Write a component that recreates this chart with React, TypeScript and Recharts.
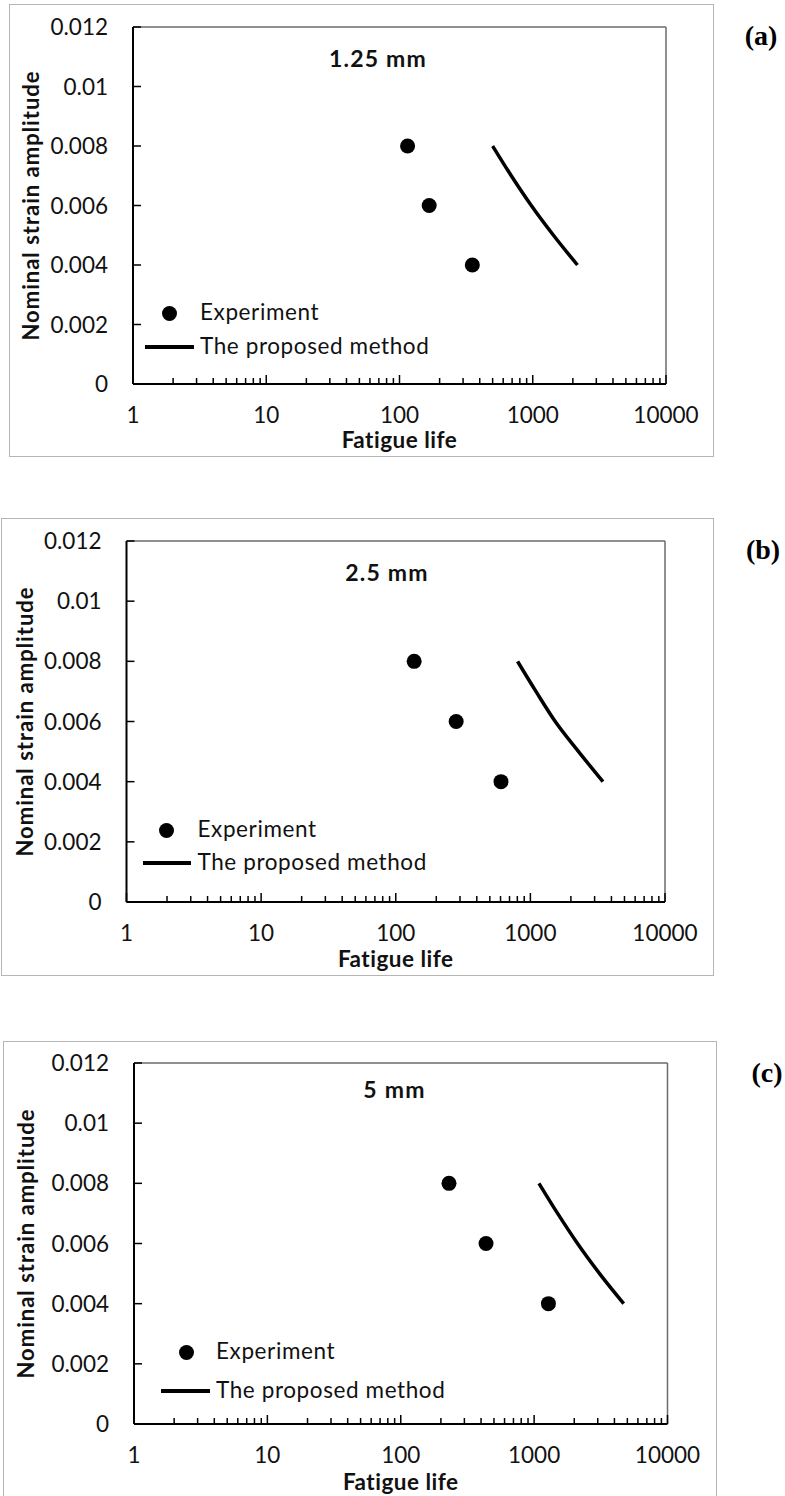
import React from "react"
import { ScatterChart, Scatter, XAxis, YAxis, ReferenceLine, Legend } from "recharts"

// strain levels (y) shared by every panel
const expStrain = [0.008, 0.006, 0.004]
const methodStrain = [0.008, 0.007, 0.006, 0.005, 0.004]

// fatigue life
const expLife125 = [115, 167, 352]
const expLife25 = [137, 281, 605]
const expLife5 = [230, 436, 1280]

const methodLife125 = [500, 690, 975, 1430, 2165]
const methodLife25 = [803, 1100, 1530, 2280, 3460]
const methodLife5 = [1087, 1500, 2115, 3095, 4700]

const titles = ["1.25 mm", "2.5 mm", "5 mm"]
const tags = ["(a)", "(b)", "(c)"]

const yTicks = [0, 0.002, 0.004, 0.006, 0.008, 0.01, 0.012]
const decades = [1, 10, 100, 1000, 10000]
const xTicks = decades.flatMap((d) => (d === 10000 ? [d] : [1, 2, 3, 4, 5, 6, 7, 8, 9].map((m) => m * d)))

const FONT = "Lato, 'Noto Sans', sans-serif"
const W = 785
const YW = 60
const XH = 70

const panels = [
  {
    top: 0, height: 470,
    plot: { l: 133, r: 666, t: 27, b: 384 },
    border: { l: 9, t: 4, r: 714, b: 457 },
    title: { x: 378, y: 59 }, tag: { x: 761, y: 38 },
    legend: { cx: 169, cy: 313, lx1: 145, lx2: 194, ly: 347, tx: 200 },
    yLabelX: 31, xLabelGap: 56,
    exp: expLife125, method: methodLife125,
  },
  {
    top: 480, height: 500,
    plot: { l: 126.5, r: 665, t: 541, b: 902 },
    border: { l: 1, t: 518, r: 714, b: 976 },
    title: { x: 387, y: 573 }, tag: { x: 763, y: 552 },
    legend: { cx: 166.5, cy: 830, lx1: 142.5, lx2: 191, ly: 863, tx: 197.5 },
    yLabelX: 25, xLabelGap: 57,
    exp: expLife25, method: methodLife25,
  },
  {
    top: 1000, height: 496,
    plot: { l: 134, r: 667.5, t: 1063, b: 1424 },
    border: { l: 3, t: 1041, r: 717, b: 1520 },
    title: { x: 394.5, y: 1090 }, tag: { x: 767, y: 1075 },
    legend: { cx: 186, cy: 1352, lx1: 161, lx2: 210, ly: 1391, tx: 216 },
    yLabelX: 26, xLabelGap: 58,
    exp: expLife5, method: methodLife5,
  },
]

const isDecade = (v: number) => decades.includes(v)

function renderXTick(p: any) {
  const { x, y, payload } = p
  const major = isDecade(payload.value)
  return (
    <g>
      <line x1={x} x2={x} y1={y} y2={y - (major ? 9 : 6)} stroke="#000" strokeWidth={1.5} />
      {major && (
        <text x={x} y={y + 39} textAnchor="middle" fontFamily={FONT} fontSize={22.5} fill="#111">
          {payload.value}
        </text>
      )}
    </g>
  )
}

function renderYTick(p: any) {
  const { x, y, payload } = p
  return (
    <g>
      <line x1={x} x2={x + 8} y1={y} y2={y} stroke="#000" strokeWidth={1.5} />
      <text x={x - 25} y={y + 8} textAnchor="end" fontFamily={FONT} fontSize={22.5} fill="#111">
        {String(payload.value)}
      </text>
    </g>
  )
}

function Panel({ cfg }: { cfg: (typeof panels)[number] }) {
  const { top, height, plot, legend } = cfg
  const margin = {
    top: plot.t - top,
    right: W - plot.r,
    bottom: height - (plot.b - top) - XH,
    left: plot.l - YW,
  }
  const expData = cfg.exp.map((x, i) => ({ x, y: expStrain[i] }))
  const methodData = cfg.method.map((x, i) => ({ x, y: methodStrain[i] }))

  const legendContent = () => (
    <div style={{ position: "relative", fontFamily: FONT, fontSize: 22.5, letterSpacing: 0.6, color: "#111" }}>
      <div
        style={{
          position: "absolute", left: legend.cx - 7.5, top: legend.cy - top - 7.5,
          width: 15, height: 15, borderRadius: "50%", background: "#000",
        }}
      />
      <div style={{ position: "absolute", left: legend.tx, top: legend.cy - top - 16, whiteSpace: "nowrap", lineHeight: "30px" }}>
        Experiment
      </div>
      <div
        style={{
          position: "absolute", left: legend.lx1, top: legend.ly - top - 2,
          width: legend.lx2 - legend.lx1, height: 4, background: "#000",
        }}
      />
      <div style={{ position: "absolute", left: legend.tx, top: legend.ly - top - 16, whiteSpace: "nowrap", lineHeight: "30px" }}>
        The proposed method
      </div>
    </div>
  )

  return (
    <div style={{ position: "absolute", left: 0, top }}>
      <ScatterChart width={W} height={height} margin={margin}>
        <XAxis
          type="number" dataKey="x" scale="log" domain={[1, 10000]} ticks={xTicks}
          allowDataOverflow interval={0} height={XH} tickSize={0} tickMargin={0} tickLine={false}
          axisLine={{ stroke: "#000", strokeWidth: 2 }} tick={renderXTick}
          label={{
            value: "Fatigue life", position: "insideTop", offset: cfg.xLabelGap - 8,
            fontFamily: FONT, fontSize: 22.5, fontWeight: 700, letterSpacing: 0.5, fill: "#111",
          }}
        />
        <YAxis
          type="number" dataKey="y" domain={[0, 0.012]} ticks={yTicks} interval={0}
          width={YW} tickSize={0} tickMargin={0} tickLine={false}
          axisLine={{ stroke: "#000", strokeWidth: 2 }} tick={renderYTick}
          label={{
            value: "Nominal strain amplitude", angle: -90, position: "insideLeft",
            offset: cfg.yLabelX - (plot.l - YW), style: { textAnchor: "middle" },
            fontFamily: FONT, fontSize: 22, fontWeight: 700, letterSpacing: 1, fill: "#111",
          }}
        />
        <ReferenceLine y={0.012} stroke="#6b6b6b" strokeWidth={1.5} />
        <ReferenceLine x={10000} stroke="#6b6b6b" strokeWidth={1.5} />
        <Scatter
          name="Experiment" data={expData} isAnimationActive={false}
          shape={(p: any) => <circle cx={p.cx} cy={p.cy} r={7.5} fill="#000" />}
        />
        <Scatter
          name="The proposed method" data={methodData} isAnimationActive={false}
          line={{ stroke: "#000", strokeWidth: 3.5 }} lineJointType="monotoneX"
          shape={() => <g />}
        />
        <Legend
          layout="horizontal" verticalAlign="middle"
          wrapperStyle={{ left: 0, top: 0, width: 0, height: 0 }}
          content={legendContent}
        />
      </ScatterChart>
    </div>
  )
}

export default function App() {
  return (
    <div style={{ position: "absolute", left: 0, top: 0, width: W, height: 1496, background: "#fff", overflow: "hidden" }}>
      {panels.map((p, i) => (
        <div
          key={"b" + i}
          style={{
            position: "absolute", left: p.border.l, top: p.border.t,
            width: p.border.r - p.border.l, height: p.border.b - p.border.t,
            border: "1px solid #b5b5b5", boxSizing: "border-box",
          }}
        />
      ))}
      {panels.map((p, i) => (
        <Panel key={i} cfg={p} />
      ))}
      <svg width={W} height={1496} style={{ position: "absolute", left: 0, top: 0, pointerEvents: "none" }}>
        {panels.map((p, i) => (
          <g key={i}>
            <text x={p.title.x} y={p.title.y + 8} textAnchor="middle" fontFamily={FONT} fontSize={23} fontWeight={700} letterSpacing={1.2} fill="#111">
              {titles[i]}
            </text>
            <text x={p.tag.x} y={p.tag.y + 7} textAnchor="middle" fontFamily="'Liberation Serif', serif" fontSize={28} fontWeight={700} fill="#000">
              {tags[i]}
            </text>
          </g>
        ))}
      </svg>
    </div>
  )
}
